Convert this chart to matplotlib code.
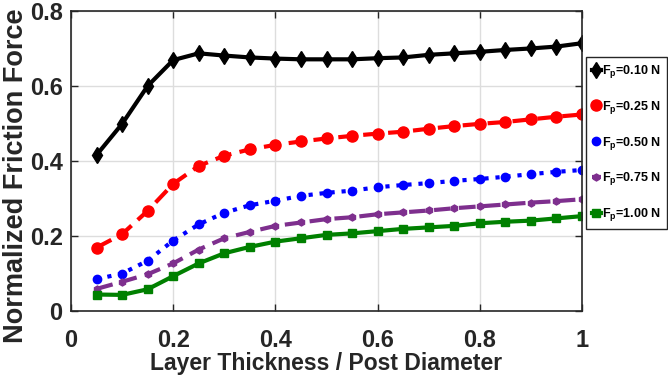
import numpy as np
import matplotlib
matplotlib.use("Agg")
import matplotlib.pyplot as plt

# layer thickness / post diameter
ratio = [0.05, 0.10, 0.15, 0.20, 0.25, 0.30, 0.35, 0.40, 0.45, 0.50,
         0.55, 0.60, 0.65, 0.70, 0.75, 0.80, 0.85, 0.90, 0.95, 1.00]

f_010 = [0.416, 0.499, 0.600, 0.669, 0.687, 0.681, 0.676, 0.673, 0.671, 0.671,
         0.671, 0.674, 0.676, 0.683, 0.687, 0.691, 0.696, 0.700, 0.705, 0.714]
f_025 = [0.169, 0.205, 0.267, 0.339, 0.387, 0.414, 0.431, 0.443, 0.452, 0.460,
         0.467, 0.473, 0.478, 0.486, 0.493, 0.499, 0.504, 0.511, 0.518, 0.524]
f_050 = [0.085, 0.100, 0.134, 0.188, 0.231, 0.262, 0.282, 0.294, 0.307, 0.315,
         0.321, 0.330, 0.336, 0.341, 0.347, 0.352, 0.358, 0.365, 0.371, 0.376]
f_075 = [0.059, 0.078, 0.098, 0.127, 0.164, 0.194, 0.211, 0.227, 0.236, 0.245,
         0.250, 0.258, 0.263, 0.268, 0.274, 0.279, 0.284, 0.289, 0.293, 0.298]
f_100 = [0.044, 0.043, 0.058, 0.093, 0.127, 0.154, 0.171, 0.185, 0.194, 0.203,
         0.207, 0.213, 0.219, 0.223, 0.227, 0.234, 0.238, 0.241, 0.247, 0.253]

labels = [r"F$_\mathbf{p}$=0.10 N", r"F$_\mathbf{p}$=0.25 N", r"F$_\mathbf{p}$=0.50 N",
          r"F$_\mathbf{p}$=0.75 N", r"F$_\mathbf{p}$=1.00 N"]

plt.rcParams['font.family'] = ['Liberation Sans', 'DejaVu Sans']
plt.rcParams['font.weight'] = 'bold'
plt.rcParams['mathtext.fontset'] = 'custom'
plt.rcParams['mathtext.bf'] = 'Liberation Sans:bold'
plt.rcParams['mathtext.rm'] = 'Liberation Sans:bold'

fig = plt.figure(figsize=(6.68, 3.77), dpi=100)
ax = fig.add_axes([0.1063, 0.175, 0.765, 0.796])

ax.plot(ratio, f_010, '-', color='black', lw=3, marker='d', ms=8, label=labels[0])
ax.plot(ratio, f_025, '--', color='red', lw=3, marker='o', ms=8, dashes=(4, 2), label=labels[1])
ax.plot(ratio, f_050, ':', color='blue', lw=3, marker='o', ms=6, label=labels[2])
ax.plot(ratio, f_075, '--', color='#7e2f8e', lw=3, marker='h', ms=5, dashes=(4, 2), label=labels[3])
ax.plot(ratio, f_100, '-', color='#008000', lw=3, marker='s', ms=6, label=labels[4])

ax.set_xlim(0, 1)
ax.set_ylim(0, 0.8)
ax.set_xticks([0, 0.2, 0.4, 0.6, 0.8, 1])
ax.set_xticklabels(['0', '0.2', '0.4', '0.6', '0.8', '1'])
ax.set_yticks([0, 0.2, 0.4, 0.6, 0.8])
ax.set_yticklabels(['0', '0.2', '0.4', '0.6', '0.8'])
ax.tick_params(direction='in', labelsize=17, width=1, length=5, colors='#262626',
               top=True, right=True)
ax.tick_params(axis='x', pad=13)
ax.tick_params(axis='y', pad=6)
ax.grid(True, color='#dddddd', lw=1)
for s in ax.spines.values():
    s.set_color('#262626')
    s.set_linewidth(1.2)

ax.set_xlabel('Layer Thickness / Post Diameter', fontsize=16.5, fontweight='bold',
              color='#262626', labelpad=0)
ax.set_ylabel('Normalized Friction Force', fontsize=19.5, fontweight='bold',
              color='#262626')
ax.yaxis.set_label_coords(-0.083, 0.45)

leg = ax.legend(loc='upper left', bbox_to_anchor=(1.008, 0.845),
                prop={'weight': 'bold', 'size': 9},
                handlelength=0.75, handletextpad=0.1, borderpad=0.45,
                borderaxespad=0, labelspacing=1.5, fancybox=False,
                framealpha=1, edgecolor='#262626')
leg.get_frame().set_linewidth(1)

fig.savefig('out.png', dpi=100)
